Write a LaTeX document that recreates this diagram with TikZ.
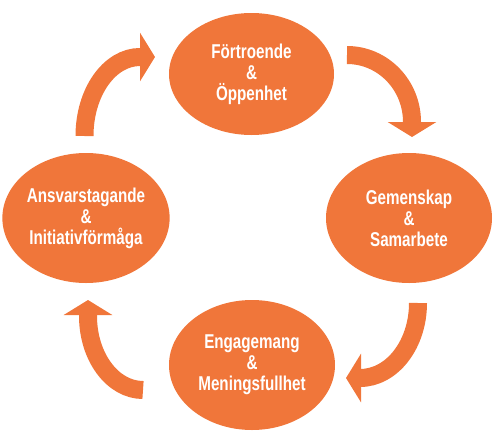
\documentclass[tikz,border=0pt]{standalone}
\usepackage{fontspec}
\setmainfont{Liberation Sans}[FakeStretch=0.76]
\usetikzlibrary{shapes.geometric,arrows.meta}
\definecolor{cycorange}{RGB}{240,118,58}
\tikzset{
  stage/.style={ellipse, fill=cycorange, text=white, inner sep=0pt, align=center,
    font=\fontsize{20}{21}\selectfont\bfseries},
  cycarrow/.style={draw=cycorange, line width=18pt,
    -{Triangle[width=48pt,length=15pt]}}
}
\begin{document}
\begin{tikzpicture}[x=1pt,y=-1pt]
\useasboundingbox (0,0) rectangle (495,434);
\node[stage, minimum width=165pt, minimum height=122pt] (trust) at (251.5,74) {Förtroende\\\&\\Öppenhet};
\node[stage, minimum width=166pt, minimum height=130pt] (team) at (409,218) {Gemenskap\\\&\\Samarbete};
\node[stage, minimum width=166pt, minimum height=130pt] (engage) at (252,365) {Engagemang\\\&\\Meningsfullhet};
\node[stage, minimum width=165pt, minimum height=130pt] (resp) at (86,218) {Ansvarstagande\\\&\\Initiativförmåga};
\coordinate (upleft) at (84.5,136);
\coordinate (upright) at (347,55);
\coordinate (downright) at (418,303);
\coordinate (downleft) at (143,390);
\draw[cycarrow] (upleft) arc[start angle=180, end angle=270, x radius=55.5, y radius=79] -- ++(15,0);
\draw[cycarrow] (upright) arc[start angle=270, end angle=360, x radius=65, y radius=67] -- ++(0,15);
\draw[cycarrow] (downright) arc[start angle=0, end angle=90, x radius=58, y radius=75] -- ++(-14,0);
\draw[cycarrow] (downleft) arc[start angle=90, end angle=180, x radius=55, y radius=74] -- ++(0,-16);
\end{tikzpicture}
\end{document}
